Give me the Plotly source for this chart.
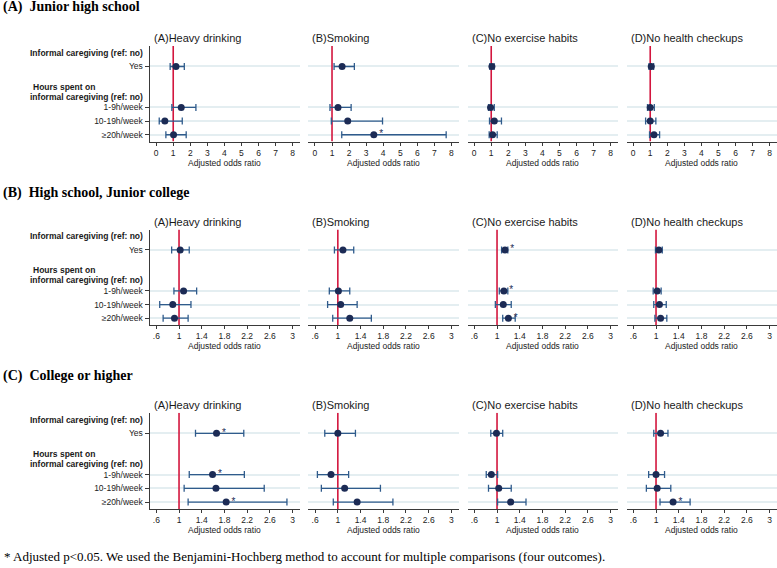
import plotly.graph_objects as go

# ---------------- data ----------------
groups = ["(A)  Junior high school", "(B)  High school, Junior college", "(C)  College or higher"]
outcomes = ["(A)Heavy drinking", "(B)Smoking", "(C)No exercise habits", "(D)No health checkups"]
categories = ["Yes", "1-9h/week", "10-19h/week", "≥20h/week"]
header_1 = "Informal caregiving (ref: no)"
header_2a = "Hours spent on"
header_2b = "informal caregiving (ref: no)"
x_title = "Adjusted odds ratio"
footnote = "* Adjusted p<0.05. We used the Benjamini-Hochberg method to account for multiple comparisons (four outcomes)."

# Junior high school: per outcome (drinking, smoking, exercise, checkups), per category
jh_or = [[1.16, 1.47, 0.51, 1.02], [1.59, 1.35, 1.92, 3.45], [1.04, 0.96, 1.18, 1.08], [1.06, 1.00, 1.00, 1.22]]
jh_lo = [[0.82, 0.92, 0.18, 0.57], [1.12, 0.88, 0.96, 1.57], [0.92, 0.84, 0.90, 0.88], [0.93, 0.84, 0.73, 0.96]]
jh_hi = [[1.65, 2.33, 1.53, 1.76], [2.31, 2.12, 3.96, 7.69], [1.17, 1.18, 1.60, 1.35], [1.20, 1.24, 1.33, 1.55]]
jh_sig = [[0, 0, 0, 0], [0, 0, 0, 1], [0, 0, 0, 0], [0, 0, 0, 0]]

# High school, Junior college
hs_or = [[1.02, 1.08, 0.89, 0.92], [1.09, 1.01, 1.05, 1.21], [1.14, 1.12, 1.11, 1.20], [1.05, 1.02, 1.06, 1.08]]
hs_lo = [[0.87, 0.91, 0.66, 0.72], [0.94, 0.85, 0.82, 0.91], [1.08, 1.04, 0.97, 1.10], [0.99, 0.95, 0.96, 0.98]]
hs_hi = [[1.18, 1.31, 1.21, 1.16], [1.28, 1.21, 1.34, 1.59], [1.19, 1.19, 1.25, 1.32], [1.11, 1.09, 1.18, 1.19]]
hs_sig = [[0, 0, 0, 0], [0, 0, 0, 0], [1, 1, 0, 1], [0, 0, 0, 0]]

# College or higher
co_or = [[1.66, 1.59, 1.65, 1.83], [1.00, 0.88, 1.12, 1.34], [0.99, 0.90, 1.03, 1.24], [1.08, 1.00, 1.02, 1.30]]
co_lo = [[1.29, 1.18, 1.09, 1.16], [0.77, 0.64, 0.71, 0.92], [0.89, 0.81, 0.85, 1.01], [0.96, 0.87, 0.83, 1.07]]
co_hi = [[2.14, 2.15, 2.50, 2.90], [1.31, 1.19, 1.75, 1.97], [1.10, 1.01, 1.25, 1.51], [1.21, 1.15, 1.26, 1.60]]
co_sig = [[1, 1, 0, 1], [0, 0, 0, 0], [0, 0, 0, 0], [0, 0, 0, 1]]

ticks_a_vals = [0, 1, 2, 3, 4, 5, 6, 7, 8]
ticks_a_text = ["0", "1", "2", "3", "4", "5", "6", "7", "8"]
ticks_bc_vals = [0.6, 1.0, 1.4, 1.8, 2.2, 2.6, 3.0]
ticks_bc_text = [".6", "1", "1.4", "1.8", "2.2", "2.6", "3"]
ref_value = 1

# ---------------- layout helpers ----------------
W, H = 777, 568
SANS = "Liberation Sans, Arial, sans-serif"
SERIF = "Liberation Serif, Times New Roman, serif"
NAVY = "#1c2b55"
CI = "#2f5b8c"
RED = "#d3163e"
GRID = "#e4eef1"
AXC = "#3a3a3a"

cat_pos = [0, 3, 4, 5]
head_pos = -1
head2_pos = 2
yrange = [5.5, -1.5]

col_x0 = [149.5, 308.3, 467.5, 626.5]
col_w = 150.5
row_y = [(46.0, 141.6), (229.5, 325.0), (412.7, 509.0)]
row_title_y = [7.3, 192.7, 376.0]
sub_title_y = [37.7, 221.7, 405.0]
xranges = [[-0.39, 8.43], [0.48, 3.13], [0.48, 3.13]]

data_sets = [(jh_or, jh_lo, jh_hi, jh_sig), (hs_or, hs_lo, hs_hi, hs_sig), (co_or, co_lo, co_hi, co_sig)]
tick_sets = [(ticks_a_vals, ticks_a_text), (ticks_bc_vals, ticks_bc_text), (ticks_bc_vals, ticks_bc_text)]


def px(x):
    return x / W


def py(y):
    return 1 - y / H


fig = go.Figure()
layout = dict(
    width=W, height=H, autosize=False,
    margin=dict(l=0, r=0, t=0, b=0, pad=0),
    paper_bgcolor="white", plot_bgcolor="white",
    showlegend=False,
    font=dict(family=SANS, size=9, color="#1a1a1a"),
)
annotations = []

for r in range(3):
    ors, los, his, sigs = data_sets[r]
    tv, tt = tick_sets[r]
    y0p, y1p = row_y[r]
    annotations.append(dict(
        text="<b>%s</b>" % groups[r], x=px(1), y=py(row_title_y[r]), xref="paper", yref="paper",
        xanchor="left", yanchor="middle", showarrow=False,
        font=dict(family=SERIF, size=14, color="black")))
    for c in range(4):
        idx = r * 4 + c + 1
        s = "" if idx == 1 else str(idx)
        o, lo, hi, sg = ors[c], los[c], his[c], sigs[c]
        # reference line at OR = 1
        fig.add_trace(go.Scatter(
            x=[ref_value, ref_value], y=yrange, mode="lines",
            line=dict(color=RED, width=1.6), xaxis="x" + s, yaxis="y" + s,
            hoverinfo="skip"))
        fig.add_trace(go.Scatter(
            x=o, y=cat_pos, mode="markers",
            marker=dict(color=NAVY, size=7),
            error_x=dict(type="data", symmetric=False,
                         array=[h - v for h, v in zip(hi, o)],
                         arrayminus=[v - l for v, l in zip(o, lo)],
                         color=CI, thickness=1.3, width=3.5),
            xaxis="x" + s, yaxis="y" + s, cliponaxis=False))
        sx = [v for v, f in zip(o, sg) if f]
        sy = [p for p, f in zip(cat_pos, sg) if f]
        if sx:
            fig.add_trace(go.Scatter(
                x=sx, y=sy, mode="markers+text", text=["*"] * len(sx), textposition="middle right",
                marker=dict(size=7, opacity=0),
                textfont=dict(family=SANS, size=10, color=NAVY),
                xaxis="x" + s, yaxis="y" + s, cliponaxis=False, hoverinfo="skip"))
        x0 = col_x0[c]
        layout["xaxis" + s] = dict(
            domain=[px(x0), min(1.0, px(x0 + col_w))], range=xranges[r], anchor="y" + s,
            tickvals=tv, ticktext=tt, ticks="outside", ticklen=3, tickwidth=1, tickcolor=AXC,
            showline=True, linecolor=AXC, linewidth=1, showgrid=False, zeroline=False,
            tickfont=dict(family=SANS, size=8.5, color="#222"), fixedrange=True)
        layout["yaxis" + s] = dict(
            domain=[py(y1p), py(y0p)], range=yrange, anchor="x" + s,
            tickvals=cat_pos, ticktext=categories, showticklabels=(c == 0),
            ticks="outside" if c == 0 else "", ticklen=4, tickcolor=AXC,
            showline=(c == 0), linecolor=AXC, linewidth=1,
            showgrid=True, gridcolor=GRID, gridwidth=1.5, zeroline=False,
            tickfont=dict(family=SANS, size=8.5, color="#222"), fixedrange=True)
        annotations.append(dict(
            text=outcomes[c], x=px(x0 + 2), y=py(sub_title_y[r]), xref="paper", yref="paper",
            xanchor="left", yanchor="middle", showarrow=False,
            font=dict(family=SANS, size=11, color="#1a1a1a")))
        annotations.append(dict(
            text=x_title, x=px(x0 + col_w / 2), y=py(y1p + 21), xref="paper", yref="paper",
            xanchor="center", yanchor="middle", showarrow=False,
            font=dict(family=SANS, size=8.5, color="#222")))
        if c == 0:
            annotations.append(dict(
                text="<b>%s</b>" % header_1, x=px(145), y=head_pos, xref="paper", yref="y" + s,
                xanchor="right", yanchor="middle", showarrow=False,
                font=dict(family=SANS, size=8.5, color="#1a1a1a")))
            annotations.append(dict(
                text="<b>%s</b>" % header_2a, x=px(30.5), y=head2_pos - 0.5, xref="paper", yref="y" + s,
                xanchor="left", yanchor="middle", showarrow=False,
                font=dict(family=SANS, size=8.5, color="#1a1a1a")))
            annotations.append(dict(
                text="<b>%s</b>" % header_2b, x=px(145), y=head2_pos + 0.22, xref="paper", yref="y" + s,
                xanchor="right", yanchor="middle", showarrow=False,
                font=dict(family=SANS, size=8.5, color="#1a1a1a")))

annotations.append(dict(
    text=footnote, x=px(2), y=py(556), xref="paper", yref="paper",
    xanchor="left", yanchor="middle", showarrow=False,
    font=dict(family=SERIF, size=13, color="black")))

layout["annotations"] = annotations
fig.update_layout(**layout)
fig.write_html("out.html", config={"displayModeBar": False},
               post_script="document.body.style.margin='0';document.body.style.padding='0';")
